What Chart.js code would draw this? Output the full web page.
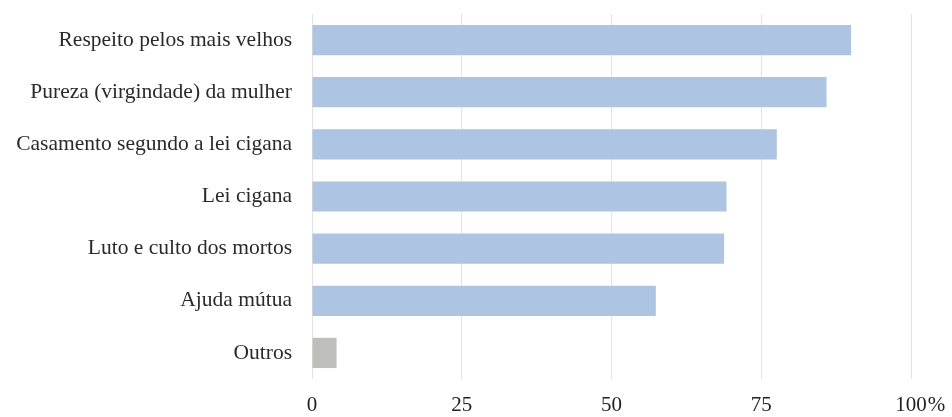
<!DOCTYPE html>
<html>
<head>
<meta charset="utf-8">
<script src="https://cdn.jsdelivr.net/npm/chart.js@4/dist/chart.umd.min.js"></script>
<style>
  html, body { margin: 0; padding: 0; background: #fff; }
  #wrap { width: 952px; height: 417px; }
</style>
</head>
<body>
<div id="wrap"><canvas id="chart" width="952" height="417"></canvas></div>
<script>
// --- Data
const categories = [
  "Respeito pelos mais velhos",
  "Pureza (virgindade) da mulher",
  "Casamento segundo a lei cigana",
  "Lei cigana",
  "Luto e culto dos mortos",
  "Ajuda mútua",
  "Outros"
];
const values = [90.0, 85.9, 77.6, 69.2, 68.8, 57.4, 4.1];
const xTicks = [0, 25, 50, 75, 100];

const BLUE = "#adc5e2";
const GREY = "#bebebc";
const FONT = "'Liberation Serif', 'Times New Roman', serif";
const X_PAD = 16;
const X_FONT = { family: FONT, size: 21, lineHeight: 1 };

// "%" sits after the last tick label, the number itself stays centred on the grid line
const percentSign = {
  id: "percentSign",
  afterDraw(chart) {
    const x = chart.scales.x;
    const ctx = chart.ctx;
    const last = xTicks[xTicks.length - 1];
    ctx.save();
    ctx.font = `${X_FONT.size}px ${FONT}`;
    const w = ctx.measureText(String(last)).width;
    ctx.fillStyle = "#222";
    ctx.textAlign = "left";
    ctx.textBaseline = "middle";
    ctx.fillText("%", x.getPixelForValue(last) + w / 2 + 1, chart.chartArea.bottom + X_PAD + X_FONT.size / 2);
    ctx.restore();
  }
};

new Chart(document.getElementById("chart"), {
  type: "bar",
  data: {
    labels: categories,
    datasets: [{
      data: values,
      backgroundColor: categories.map((c, i) => i === categories.length - 1 ? GREY : BLUE),
      borderWidth: 0,
      barPercentage: 0.58,
      categoryPercentage: 1
    }]
  },
  options: {
    indexAxis: "y",
    responsive: false,
    animation: false,
    layout: { padding: { top: 14, right: 41, bottom: 0, left: 0 } },
    plugins: { legend: { display: false }, tooltip: { enabled: false } },
    scales: {
      x: {
        min: 0,
        max: 100,
        afterBuildTicks: (s) => { s.ticks = xTicks.map(v => ({ value: v })); },
        afterFit: (s) => { s.height = 38; s.paddingLeft = 0; s.paddingRight = 0; },
        grid: { color: "#e3e3e3", lineWidth: 1, drawTicks: false },
        border: { display: false },
        ticks: { color: "#222", font: X_FONT, padding: X_PAD, maxRotation: 0 }
      },
      y: {
        afterFit: (s) => { s.width = 312; s.paddingTop = 0; s.paddingBottom = 0; },
        grid: { display: false, drawTicks: false },
        border: { display: false },
        ticks: { color: "#2a2a2a", font: { family: FONT, size: 21.5 }, padding: 20 }
      }
    }
  },
  plugins: [percentSign]
});
</script>
</body>
</html>
